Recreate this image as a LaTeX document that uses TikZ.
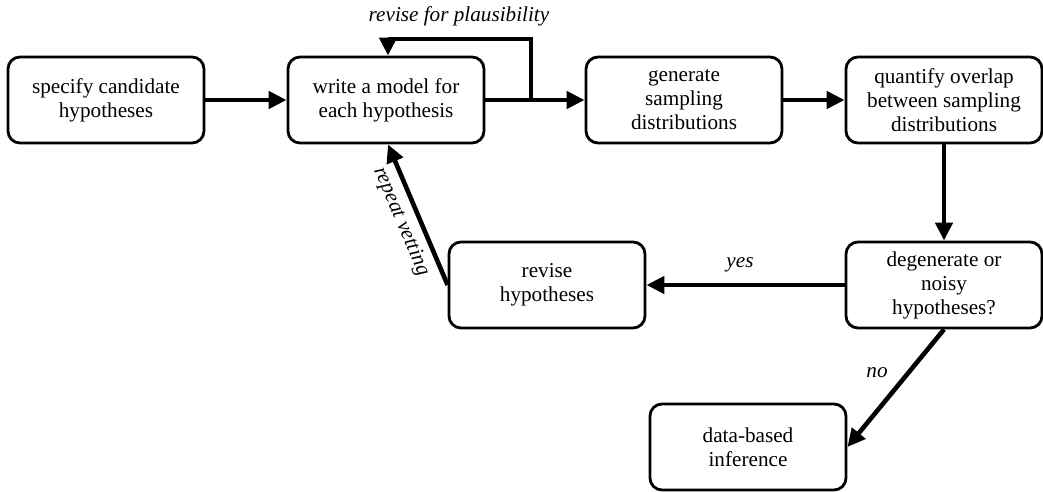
\documentclass[tikz,border=0pt]{standalone}
\usepackage{fontspec}
\setmainfont{Liberation Serif}
\usetikzlibrary{arrows.meta}
\begin{document}
\begin{tikzpicture}[x=0.5pt,y=-0.5pt,
  box/.style={draw, line width=1.4pt, rounded corners=6pt, minimum width=98pt, minimum height=43pt, align=center, inner sep=2pt, font=\fontsize{10.6}{12}\selectfont},
  conn/.style={line width=2.3pt, -{Triangle[length=9pt,width=8.5pt]}},
  lab/.style={font=\fontsize{10.6}{12}\selectfont\itshape}]
\useasboundingbox (0,0) rectangle (1043,492);
\node[box] (spec) at (106,100) {specify candidate\\hypotheses};
\node[box] (model) at (386,100) {write a model for\\each hypothesis};
\node[box] (gen) at (684,100) {generate\\sampling\\distributions};
\node[box] (quant) at (944,100) {quantify overlap\\between sampling\\distributions};
\node[box] (deg) at (944,285) {degenerate or\\noisy\\hypotheses?};
\node[box] (rev) at (547,285) {revise\\hypotheses};
\node[box] (data) at (748,447) {data-based\\inference};
\coordinate (j) at (531,100);
\coordinate (jt) at (531,39);
\coordinate (mt) at (388,39);
\draw[conn] (spec) -- (model);
\draw[conn] (model) -- (gen);
\draw[line width=2.3pt] (j) -- (jt) -- (mt);
\draw[conn] (mt) -- (model.north -| mt);
\draw[conn] (gen) -- (quant);
\draw[conn] (quant) -- (deg);
\draw[conn] (deg) -- (rev);
\draw[conn] (deg.south) -- (data.east);
\draw[conn] (rev.west) -- (model.south -| mt) node[lab, midway, sloped, below] {repeat vetting};
\node[lab] (plaus) at (459,16) {revise for plausibility};
\node[lab] (yes) at (740,265) {yes};
\node[lab] (no) at (877,373) {no};
\end{tikzpicture}
\end{document}
